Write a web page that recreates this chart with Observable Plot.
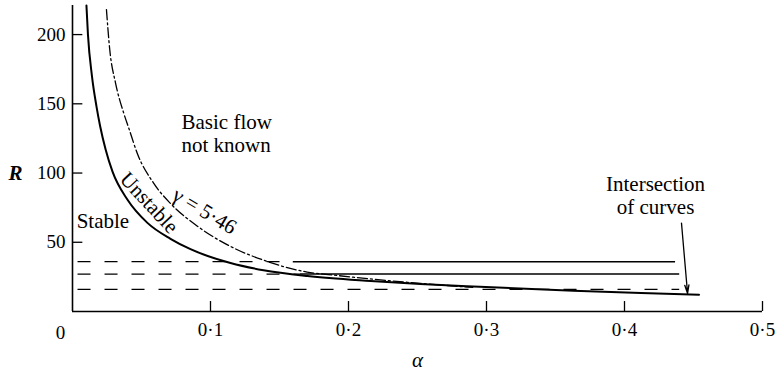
<!DOCTYPE html>
<html>
<head>
<meta charset="utf-8">
<script src="https://cdn.jsdelivr.net/npm/d3@7"></script>
<script src="https://cdn.jsdelivr.net/npm/@observablehq/plot@0.6"></script>
<style>
  html, body { margin: 0; padding: 0; background: #fff; }
</style>
</head>
<body>
<div id="chart"></div>
<script>
// Neutral (solid) curve
const alphaSolid = [0.0101, 0.0112, 0.0141, 0.0174, 0.0200, 0.0240, 0.0290, 0.0400, 0.0543, 0.0710, 0.0855, 0.1145, 0.1384, 0.1703, 0.216, 0.252, 0.295, 0.363, 0.412, 0.454];
const rSolid     = [221, 200, 170, 148, 134, 117, 101, 80.5, 64, 52.5, 45, 35, 29.8, 25.6, 22, 19.8, 17.8, 15.0, 13.3, 12.1];

// gamma = 5.46 (dash-dot) curve
const alphaGamma = [0.0246, 0.027, 0.0312, 0.0372, 0.0408, 0.0469, 0.0589, 0.071, 0.090, 0.1145, 0.1386, 0.170, 0.192, 0.216, 0.252, 0.290];
const rGamma     = [218, 189, 165, 143, 132.4, 114.3, 92.5, 78, 62, 47, 37, 28.5, 26, 23.5, 20.3, 17.4];

// Horizontal level lines
const levelR      = [36, 27, 16];
const dashStart   = [0.004, 0.004, 0.004];
const dashEnd     = [0.160, 0.165, 0.440];
const solidStart  = [0.160, 0.165];
const solidEnd    = [0.437, 0.440];

// Ticks
const xTicks = [0.1, 0.2, 0.3, 0.4, 0.5];
const yTicks = [50, 100, 150, 200];

// Arrow "Intersection of curves"
const arrowFrom = [0.4413, 63.8];
const arrowTo   = [0.4457, 13.0];

const solidData = alphaSolid.map((a, i) => ({a, r: rSolid[i]}));
const gammaData = alphaGamma.map((a, i) => ({a, r: rGamma[i]}));
const dashData  = levelR.map((r, i) => ({r, x1: dashStart[i], x2: dashEnd[i]}));
const solidLvl  = solidStart.map((s, i) => ({r: levelR[i], x1: s, x2: solidEnd[i]}));

const fmt = d => d.toFixed(1).replace(".", "·");
const FS = 19;
const FF = "Liberation Serif";

const chart = Plot.plot({
  width: 776,
  height: 376,
  marginLeft: 72,
  marginRight: 14,
  marginTop: 5,
  marginBottom: 65,
  x: {domain: [0, 0.5]},
  y: {domain: [0, 221]},
  marks: [
    // axis lines
    Plot.ruleX([0], {stroke: "#000", strokeWidth: 1.6}),
    Plot.ruleY([0], {stroke: "#000", strokeWidth: 1.6}),
    // inward ticks
    Plot.ruleX(xTicks, {x: d => d, y1: 0, y2: 7.2, stroke: "#000", strokeWidth: 1.3}),
    Plot.ruleY(yTicks, {y: d => d, x1: 0, x2: 0.0075, stroke: "#000", strokeWidth: 1.3}),
    // tick labels
    Plot.axisX(xTicks, {tickSize: 0, tickPadding: 11, tickFormat: fmt, fontSize: FS, fontFamily: FF, label: null}),
    Plot.text([0], {x: d => d, y: 0, text: () => "0", dx: -12, dy: 21, fontSize: FS, fontFamily: FF, lineAnchor: "middle"}),
    Plot.axisY(yTicks, {tickSize: 0, tickPadding: 7, fontSize: FS, fontFamily: FF, label: null}),
    // horizontal level lines
    Plot.ruleY(dashData, {y: "r", x1: "x1", x2: "x2", stroke: "#000", strokeWidth: 1.3, strokeDasharray: "13,14"}),
    Plot.ruleY(solidLvl, {y: "r", x1: "x1", x2: "x2", stroke: "#000", strokeWidth: 1.5}),
    // curves
    Plot.line(gammaData, {x: "a", y: "r", curve: "monotone-x", stroke: "#000", strokeWidth: 1.3, strokeDasharray: "10,3,2,3"}),
    Plot.line(solidData, {x: "a", y: "r", curve: "monotone-x", stroke: "#000", strokeWidth: 2}),
    // arrow
    Plot.arrow([0], {x1: () => arrowFrom[0], y1: () => arrowFrom[1], x2: () => arrowTo[0], y2: () => arrowTo[1],
      stroke: "#000", strokeWidth: 1.3, headLength: 10, headAngle: 28}),
    // annotations
    Plot.text(["Basic flow\nnot known"], {x: 0.079, y: 128.8, textAnchor: "start", lineAnchor: "middle", fontSize: 21, fontFamily: FF, lineHeight: 1.12}),
    Plot.text(["Stable"], {x: 0.003, y: 65.2, textAnchor: "start", lineAnchor: "middle", fontSize: 21, fontFamily: FF}),
    Plot.text(["Unstable"], {x: 0.0555, y: 78.5, rotate: 47, lineAnchor: "middle", fontSize: 21, fontFamily: FF}),
    Plot.text(["γ = 5·46"], {x: 0.0957, y: 72.5, rotate: 31, lineAnchor: "middle", fontSize: 21, fontFamily: FF}),
    Plot.text(["Intersection\nof curves"], {x: 0.4225, y: 84, lineAnchor: "middle", fontSize: 21, fontFamily: FF, lineHeight: 1.1}),
    // axis titles
    Plot.text(["R"], {x: 0, y: 100, dx: -57, lineAnchor: "middle", fontSize: 21, fontFamily: FF, fontStyle: "italic", fontWeight: "bold"}),
    Plot.text(["α"], {x: 0.25, y: 0, dy: 49, lineAnchor: "middle", fontSize: 21, fontFamily: FF, fontStyle: "italic"})
  ]
});
document.getElementById("chart").appendChild(chart);
</script>
</body>
</html>
